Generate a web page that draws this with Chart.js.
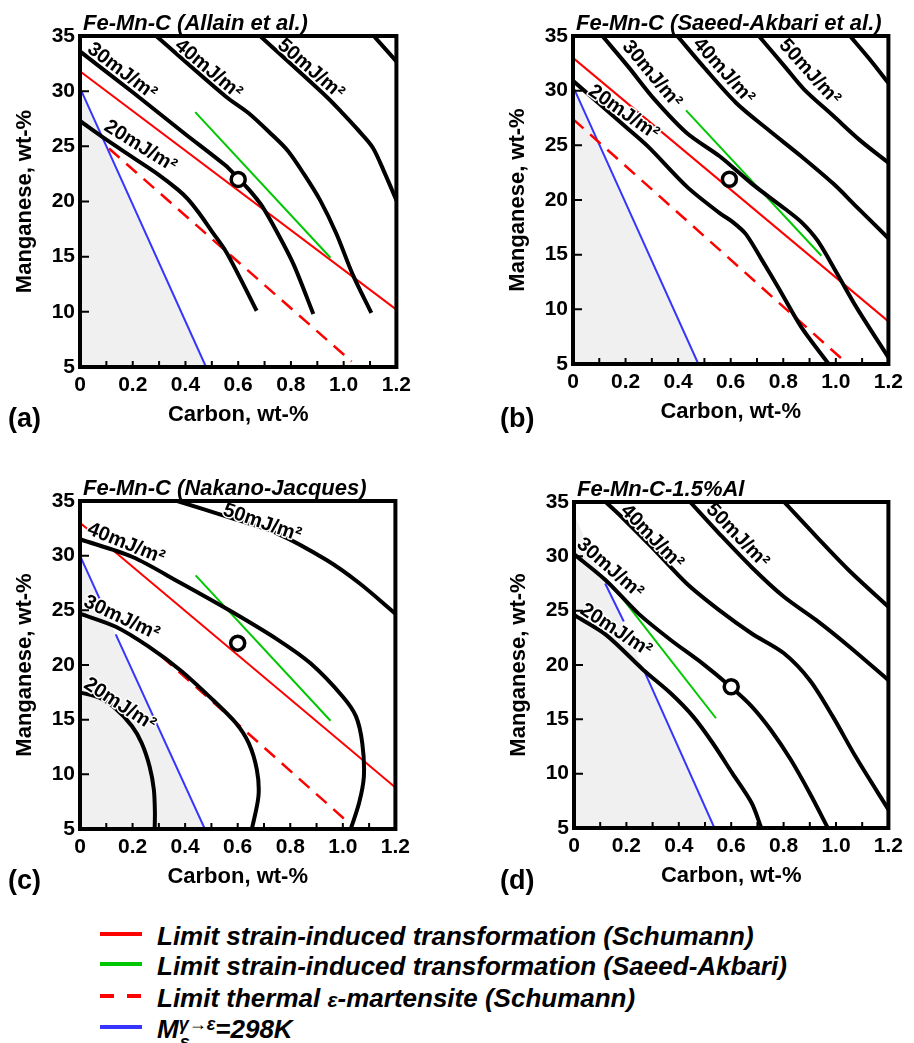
<!DOCTYPE html>
<html>
<head>
<meta charset="utf-8">
<script src="https://cdn.jsdelivr.net/npm/chart.js@4.4.0/dist/chart.umd.min.js"></script>
<style>
  body { margin: 0; background: #fff; }
  #page { position: relative; width: 914px; height: 1043px; overflow: hidden; font-family: "Liberation Sans", Arial, sans-serif; color: #000; }
  canvas { position: absolute; }
  .tag { position: absolute; font-weight: bold; font-size: 27px; line-height: 27px; }
  .row { position: absolute; left: 0; width: 914px; height: 30px; }
  .row svg { position: absolute; left: 100px; top: 8px; }
  .row .txt { position: absolute; left: 157px; top: 0; font-weight: bold; font-style: italic; font-size: 26px; line-height: 26px; white-space: nowrap; }
  .eps { font-size: 21px; }
  .ms { position: relative; display: inline-block; }
  .ms .sup { font-size: 18px; position: relative; top: -8px; }
  .ms .sub { font-size: 18px; position: absolute; left: 1px; top: 13px; }
</style>
</head>
<body>
<div id="page">
  <canvas id="pa"></canvas>
  <canvas id="pb"></canvas>
  <canvas id="pc"></canvas>
  <canvas id="pd"></canvas>

  <div class="tag" style="left:8px;top:405px">(a)</div>
  <div class="tag" style="left:500px;top:405px">(b)</div>
  <div class="tag" style="left:8px;top:867px">(c)</div>
  <div class="tag" style="left:500px;top:867px">(d)</div>

  <div class="row" style="top:923px">
    <svg width="42" height="6"><line x1="0" y1="3" x2="42" y2="3" stroke="#ff0000" stroke-width="4"/></svg>
    <div class="txt">Limit strain-induced transformation (Schumann)</div>
  </div>
  <div class="row" style="top:953px">
    <svg width="42" height="6"><line x1="0" y1="3" x2="42" y2="3" stroke="#00c800" stroke-width="4"/></svg>
    <div class="txt">Limit strain-induced transformation (Saeed-Akbari)</div>
  </div>
  <div class="row" style="top:985px">
    <svg width="42" height="6"><line x1="0" y1="3" x2="42" y2="3" stroke="#ff0000" stroke-width="4" stroke-dasharray="14 13"/></svg>
    <div class="txt">Limit thermal <span class="eps">ε</span>-martensite (Schumann)</div>
  </div>
  <div class="row" style="top:1016px">
    <svg width="42" height="6"><line x1="0" y1="3" x2="42" y2="3" stroke="#3535ff" stroke-width="4"/></svg>
    <div class="txt">M<span class="ms"><span class="sup">γ→ε</span><span class="sub">s</span></span>=298K</div>
  </div>
</div>

<script>
// axis ticks
const xTickValues = [0, 0.2, 0.4, 0.6, 0.8, 1.0, 1.2];
const xTickLabels = ["0", "0.2", "0.4", "0.6", "0.8", "1.0", "1.2"];
const yTickValues = [5, 10, 15, 20, 25, 30, 35];
const yTickLabels = ["5", "10", "15", "20", "25", "30", "35"];

// (a) Allain et al.
const aSfe20 = [[0, 27.3], [0.1, 25.6], [0.2, 24.0], [0.3, 22.4], [0.37, 21.1], [0.41, 20.2], [0.45, 19.0], [0.5, 17.3], [0.55, 15.6], [0.6, 13.4], [0.67, 10.1]];
const aSfe30 = [[0, 33.6], [0.2, 29.9], [0.4, 26.1], [0.55, 23.3], [0.6, 22.1], [0.64, 21.1], [0.69, 19.6], [0.75, 17.1], [0.81, 14.3], [0.885, 9.8]];
const aSfe40 = [[0.289, 35], [0.554, 29.5], [0.64, 28.0], [0.726, 26.1], [0.788, 24.6], [0.849, 22.5], [0.911, 20.1], [0.972, 17.1], [1.034, 13.4], [1.105, 9.9]];
const aSfe50 = [[0.683, 35], [0.935, 29.5], [1.0, 27.9], [1.05, 26.6], [1.11, 24.9], [1.157, 22.5], [1.2, 20.1]];
const aSfe60 = [[1.114, 35], [1.2, 32.7]];
const aRed = [[0, 31.8], [1.2, 10.2]];
const aDash = [[0.11, 24.8], [1.03, 5.5]];
const aGreen = [[0.437, 28.1], [0.95, 14.9]];
const aMs = [[0, 30.3], [0.478, 5]];
const aAlloy = [[0.6, 22]];
const aLabels = [["30mJ/m²", 0.159, 31.8, 37], ["40mJ/m²", 0.487, 32.0, 40], ["50mJ/m²", 0.875, 32.0, 41], ["20mJ/m²", 0.229, 25.0, 32]];

// (b) Saeed-Akbari et al.
const bSfe20 = [[0, 30.9], [0.1, 28.8], [0.2, 26.7], [0.285, 24.9], [0.434, 21.2], [0.558, 18.8], [0.607, 18.0], [0.657, 16.9], [0.719, 14.5], [0.781, 12.0], [0.868, 8.4], [0.973, 5.0]];
const bSfe30 = [[0.112, 35], [0.21, 32.2], [0.31, 29.2], [0.434, 26.1], [0.558, 24.0], [0.68, 21.5], [0.806, 19.2], [0.868, 18.0], [0.93, 16.3], [1.004, 13.3], [1.078, 10.2], [1.2, 5.6]];
const bSfe40 = [[0.397, 35], [0.496, 32.2], [0.62, 28.9], [0.744, 26.4], [0.868, 24.0], [0.99, 21.5], [1.078, 19.4], [1.2, 16.5]];
const bSfe50 = [[0.707, 35], [0.806, 32.2], [0.88, 30.1], [0.99, 27.7], [1.09, 25.5], [1.2, 23.4]];
const bSfe60 = [[1.054, 35], [1.128, 32.9], [1.2, 30.7]];
const bRed = [[0, 33.0], [1.2, 8.9]];
const bDash = [[0, 27.4], [1.04, 5.1]];
const bGreen = [[0.43, 28.2], [0.945, 14.9]];
const bMs = [[0, 30.4], [0.477, 5]];
const bAlloy = [[0.595, 21.9]];
const bLabels = [["30mJ/m²", 0.30, 31.5, 50], ["40mJ/m²", 0.573, 31.8, 48], ["50mJ/m²", 0.90, 31.7, 48], ["20mJ/m²", 0.193, 28.0, 35]];

// (c) Nakano-Jacques
const cSfe20 = [[0, 17.5], [0.074, 17.0], [0.136, 16.0], [0.198, 14.4], [0.235, 12.85], [0.265, 10.7], [0.281, 8.6], [0.285, 6.5], [0.284, 5]];
const cSfe30 = [[0, 24.7], [0.136, 23.5], [0.26, 21.7], [0.383, 19.5], [0.506, 16.8], [0.593, 14.7], [0.642, 12.85], [0.673, 10.4], [0.679, 8], [0.654, 5]];
const cSfe40 = [[0, 31.5], [0.198, 29.9], [0.383, 27.5], [0.568, 25.0], [0.753, 22.3], [0.877, 20.15], [1.0, 17.1], [1.05, 15.3], [1.074, 12.85], [1.08, 9.8], [1.062, 7.4], [1.03, 5]];
const cSfe50 = [[0.37, 35], [0.568, 33.5], [0.753, 32.0], [0.938, 29.6], [1.062, 27.5], [1.2, 24.7]];
const cRed = [[[0, 33.0], [0.031, 32.4]], [[0.13, 30.4], [1.2, 8.8]]];
const cDash = [[0.31, 20.8], [1.03, 5.4]];
const cGreen = [[0.44, 28.2], [0.953, 14.9]];
const cMs = [[[0, 30.0], [0.074, 26.1]], [[0.136, 22.8], [0.475, 5]]];
const cGray = [[0, 30.0], [0.475, 5]];
const cAlloy = [[0.6, 22]];
const cLabels = [["50mJ/m²", 0.693, 33.0, 19], ["40mJ/m²", 0.175, 31.1, 22], ["30mJ/m²", 0.158, 24.3, 25], ["20mJ/m²", 0.151, 16.4, 33]];

// (d) Fe-Mn-C-1.5%Al
const dSfe20 = [[0, 24.6], [0.121, 22.8], [0.267, 19.5], [0.369, 17.4], [0.455, 15.25], [0.53, 12.8], [0.604, 10.05], [0.678, 7.3], [0.715, 5]];
const dSfe30 = [[0, 30.2], [0.121, 27.8], [0.245, 24.75], [0.369, 22.3], [0.49, 20.15], [0.598, 18.0], [0.678, 16.2], [0.752, 14.0], [0.827, 11.3], [0.9, 8.2], [0.969, 5]];
const dSfe40 = [[0.121, 35], [0.183, 33.6], [0.307, 30.6], [0.43, 27.5], [0.554, 25.05], [0.678, 22.9], [0.8, 21.1], [0.9, 18.6], [0.988, 15.25], [1.074, 11.6], [1.2, 6.7]];
const dSfe50 = [[0.443, 35], [0.554, 32.1], [0.678, 29.0], [0.8, 26.3], [0.926, 24.1], [1.05, 21.7], [1.2, 18.6]];
const dSfe60 = [[0.802, 35], [0.926, 31.8], [1.05, 28.7], [1.2, 25.35]];
const dGreen = [[0.17, 26.6], [0.542, 15.1]];
const dMs = [[[0.119, 27.5], [0.19, 24.0]], [[0.267, 19.5], [0.536, 5]]];
const dGray = [[0, 33.9], [0.536, 5]];
const dAlloy = [[0.6, 18]];
const dLabels = [["40mJ/m²", 0.297, 31.8, 46], ["50mJ/m²", 0.624, 31.9, 46], ["30mJ/m²", 0.137, 28.9, 41], ["20mJ/m²", 0.16, 23.2, 33]];

const FONT = "'Liberation Sans', Arial, sans-serif";
const RED = "#ff0000";
const GREEN = "#00c800";
const BLUE = "#3535ff";

const panels = [
  { id: "pa", area: [80, 36, 405, 367], title: "Fe-Mn-C (Allain et al.)",
    curves: [aSfe20, aSfe30, aSfe40, aSfe50, aSfe60], red: [aRed], dash: [aDash], green: [aGreen], blue: [aMs], gray: aMs, alloy: aAlloy, labels: aLabels },
  { id: "pb", area: [573, 36, 897, 364], title: "Fe-Mn-C (Saeed-Akbari et al.)",
    curves: [bSfe20, bSfe30, bSfe40, bSfe50, bSfe60], red: [bRed], dash: [bDash], green: [bGreen], blue: [bMs], gray: bMs, alloy: bAlloy, labels: bLabels },
  { id: "pc", area: [80, 501, 404, 829], title: "Fe-Mn-C (Nakano-Jacques)",
    curves: [cSfe20, cSfe30, cSfe40, cSfe50], red: cRed, dash: [cDash], green: [cGreen], blue: cMs, gray: cGray, alloy: cAlloy, labels: cLabels },
  { id: "pd", area: [574, 502, 897, 828], title: "Fe-Mn-C-1.5%Al",
    curves: [dSfe20, dSfe30, dSfe40, dSfe50, dSfe60], red: [], dash: [], green: [dGreen], blue: dMs, gray: dGray, alloy: dAlloy, labels: dLabels }
];

const pts = (arr) => arr.map(([x, y]) => ({ x, y }));

function lineSet(seg, color, width, dash, order, tension) {
  return {
    data: pts(seg),
    showLine: true,
    borderColor: color,
    borderWidth: width,
    borderDash: dash,
    borderCapStyle: "butt",
    borderJoinStyle: "round",
    pointRadius: 0,
    fill: false,
    tension: tension || 0,
    order,
    clip: 0
  };
}

function makeDecor(panel) {
  return {
    id: "decor",
    afterDatasetsDraw(chart) {
      const { ctx, chartArea: a } = chart;
      const xs = chart.scales.x;
      const ys = chart.scales.y;
      ctx.save();

      // energy labels
      ctx.font = `bold 20px ${FONT}`;
      ctx.textAlign = "center";
      ctx.textBaseline = "middle";
      panel.labels.forEach(([text, x, y, ang]) => {
        ctx.save();
        ctx.translate(xs.getPixelForValue(x), ys.getPixelForValue(y));
        ctx.rotate((ang * Math.PI) / 180);
        ctx.lineWidth = 3;
        ctx.strokeStyle = "#fff";
        ctx.lineJoin = "round";
        ctx.strokeText(text, 0, 0);
        ctx.fillStyle = "#000";
        ctx.fillText(text, 0, 0);
        ctx.restore();
      });

      // inner tick marks
      ctx.strokeStyle = "#000";
      ctx.lineWidth = 2;
      ctx.beginPath();
      for (let i = 1; i < 12; i++) {
        const px = xs.getPixelForValue(i / 10);
        ctx.moveTo(px, a.bottom);
        ctx.lineTo(px, a.bottom - 6);
      }
      yTickValues.slice(1, -1).forEach((v) => {
        const py = ys.getPixelForValue(v);
        ctx.moveTo(a.left, py);
        ctx.lineTo(a.left + 9, py);
      });
      ctx.stroke();

      // frame
      ctx.lineWidth = 4;
      ctx.strokeRect(a.left, a.top, a.right - a.left, a.bottom - a.top);

      // title
      ctx.font = `italic bold 22px ${FONT}`;
      ctx.textAlign = "left";
      ctx.textBaseline = "alphabetic";
      ctx.fillStyle = "#000";
      ctx.fillText(panel.title, a.left + 3, a.top - 6);
      ctx.restore();
    }
  };
}

function buildPanel(panel) {
  const [l, t, r, b] = panel.area;
  const canvas = document.getElementById(panel.id);
  const left = l - 80;
  const top = t - 36;
  const w = r - left + 12;
  const h = b - top + 61;
  canvas.width = w;
  canvas.height = h;
  canvas.style.left = left + "px";
  canvas.style.top = top + "px";
  canvas.style.width = w + "px";
  canvas.style.height = h + "px";

  const datasets = [];
  datasets.push({
    data: pts(panel.gray),
    showLine: true,
    borderColor: "rgba(0,0,0,0)",
    borderWidth: 1,
    pointRadius: 0,
    fill: "start",
    backgroundColor: "#f0f0f0",
    order: 20,
    clip: 0
  });
  panel.blue.forEach((s) => datasets.push(lineSet(s, BLUE, 2, [], 12)));
  panel.dash.forEach((s) => datasets.push(lineSet(s, RED, 2.5, [14, 9], 11)));
  panel.red.forEach((s) => datasets.push(lineSet(s, RED, 2, [], 10)));
  panel.green.forEach((s) => datasets.push(lineSet(s, GREEN, 2, [], 9)));
  panel.curves.forEach((s) => datasets.push(lineSet(s, "#000", 4, [], 5, 0.3)));
  datasets.push({
    data: pts(panel.alloy),
    showLine: false,
    pointRadius: 7,
    pointBorderWidth: 3.5,
    pointBackgroundColor: "#fff",
    pointBorderColor: "#000",
    order: 0,
    clip: false
  });

  new Chart(canvas, {
    type: "line",
    data: { datasets },
    options: {
      responsive: false,
      devicePixelRatio: 1,
      animation: false,
      events: [],
      layout: { padding: { left: 0, right: 12, top: 36, bottom: 0 } },
      plugins: { legend: { display: false }, tooltip: { enabled: false } },
      scales: {
        x: {
          type: "linear",
          min: 0,
          max: 1.2,
          afterFit: (s) => { s.height = 61; },
          afterBuildTicks: (s) => { s.ticks = xTickValues.map((v) => ({ value: v })); },
          ticks: {
            callback: (v, i) => xTickLabels[i],
            font: { family: FONT, size: 21, weight: "bold" },
            color: "#000",
            padding: 6,
            maxRotation: 0,
            autoSkip: false
          },
          grid: { display: false, drawTicks: false },
          border: { display: false },
          title: { display: true, text: "Carbon, wt-%", color: "#000", font: { family: FONT, size: 22, weight: "bold" }, padding: 0 }
        },
        y: {
          type: "linear",
          min: 5,
          max: 35,
          afterFit: (s) => { s.width = 80; },
          afterBuildTicks: (s) => { s.ticks = yTickValues.map((v) => ({ value: v })); },
          ticks: {
            callback: (v, i) => yTickLabels[i],
            font: { family: FONT, size: 21, weight: "bold" },
            color: "#000",
            padding: 5,
            autoSkip: false
          },
          grid: { display: false, drawTicks: false },
          border: { display: false },
          title: { display: true, text: "Manganese, wt-%", color: "#000", font: { family: FONT, size: 22, weight: "bold" }, padding: { top: 12, bottom: 0 } }
        }
      }
    },
    plugins: [makeDecor(panel)]
  });
}

panels.forEach(buildPanel);
</script>
</body>
</html>
